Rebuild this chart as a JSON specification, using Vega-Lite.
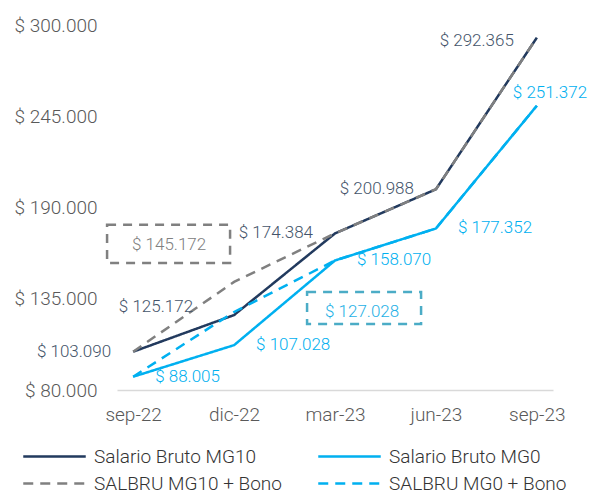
{
  "$schema": "https://vega.github.io/schema/vega-lite/v6.json",
  "width": 436,
  "height": 365,
  "autosize": {"type": "none"},
  "padding": {"left": 117, "top": 25, "right": 36, "bottom": 104},
  "background": "white",
  "config": {
    "view": {"stroke": null},
    "font": "Roboto",
    "text": {"font": "Roboto", "fontWeight": 300}
  },
  "data": {
    "values": [
      {"date": "sep-22", "series": "Salario Bruto MG10", "value": 103090},
      {"date": "dic-22", "series": "Salario Bruto MG10", "value": 125172},
      {"date": "mar-23", "series": "Salario Bruto MG10", "value": 174384},
      {"date": "jun-23", "series": "Salario Bruto MG10", "value": 200988},
      {"date": "sep-23", "series": "Salario Bruto MG10", "value": 292365},
      {"date": "sep-22", "series": "Salario Bruto MG0", "value": 88005},
      {"date": "dic-22", "series": "Salario Bruto MG0", "value": 107028},
      {"date": "mar-23", "series": "Salario Bruto MG0", "value": 158070},
      {"date": "jun-23", "series": "Salario Bruto MG0", "value": 177352},
      {"date": "sep-23", "series": "Salario Bruto MG0", "value": 251372},
      {"date": "sep-22", "series": "SALBRU MG10 + Bono", "value": 103090},
      {"date": "dic-22", "series": "SALBRU MG10 + Bono", "value": 145172},
      {"date": "mar-23", "series": "SALBRU MG10 + Bono", "value": 174384},
      {"date": "jun-23", "series": "SALBRU MG10 + Bono", "value": 200988},
      {"date": "sep-23", "series": "SALBRU MG10 + Bono", "value": 292365},
      {"date": "sep-22", "series": "SALBRU MG0 + Bono", "value": 88005},
      {"date": "dic-22", "series": "SALBRU MG0 + Bono", "value": 127028},
      {"date": "mar-23", "series": "SALBRU MG0 + Bono", "value": 158070},
      {"date": "jun-23", "series": "SALBRU MG0 + Bono", "value": 177352},
      {"date": "sep-23", "series": "SALBRU MG0 + Bono", "value": 251372}
    ]
  },
  "transform": [
    {"calculate": "'$ ' + replace(format(datum.value, ','), ',', '.')", "as": "label"}
  ],
  "encoding": {
    "x": {
      "field": "date", "type": "ordinal",
      "sort": ["sep-22", "dic-22", "mar-23", "jun-23", "sep-23"],
      "scale": {"type": "point", "padding": 0.16},
      "axis": {
        "title": null, "labelAngle": 0, "ticks": false, "tickSize": 0,
        "domainColor": "#d9d9d9", "domainWidth": 1.5,
        "labelFont": "Roboto", "labelFontWeight": 300, "labelFontSize": 19,
        "labelColor": "#595959", "labelPadding": 15
      }
    },
    "y": {
      "field": "value", "type": "quantitative",
      "scale": {"domain": [80000, 300000], "nice": false, "zero": false},
      "axis": {
        "title": null, "values": [80000, 135000, 190000, 245000, 300000],
        "labelExpr": "'$ ' + replace(format(datum.value, ','), ',', '.')",
        "domain": false, "grid": false, "ticks": false, "tickSize": 0,
        "labelFont": "Roboto", "labelFontWeight": 300, "labelFontSize": 19,
        "labelColor": "#595959", "labelPadding": 20
      }
    }
  },
  "layer": [
    {
      "transform": [{"filter": "indexof(datum.series, 'Salario') == 0"}],
      "mark": {"type": "line", "strokeWidth": 2.5},
      "encoding": {
        "color": {"field": "series", "type": "nominal",
          "scale": {"domain": ["Salario Bruto MG10", "Salario Bruto MG0", "SALBRU MG10 + Bono", "SALBRU MG0 + Bono"],
                    "range": ["#223a5e", "#00b0f0", "#808080", "#00b0f0"]},
          "legend": {
            "title": null, "orient": "none", "legendX": -76.5, "legendY": 417.5,
            "columns": 2, "direction": "horizontal", "symbolType": "M-2.5,0H2.5", "symbolSize": 625,
            "symbolStrokeWidth": 2.5, "symbolFillColor": "transparent", "labelFont": "Roboto", "labelFontWeight": 300, "labelFontSize": 19,
            "labelColor": "#333333", "labelOffset": 25.5, "columnPadding": 30, "rowPadding": 3, "padding": 0,
            "labelLimit": 400
          }
        },
        "strokeDash": {"field": "series", "type": "nominal",
          "scale": {"domain": ["Salario Bruto MG10", "Salario Bruto MG0", "SALBRU MG10 + Bono", "SALBRU MG0 + Bono"],
                    "range": [[1, 0], [1, 0], [10, 7], [10, 7]]},
          "legend": {
            "title": null, "orient": "none", "legendX": -76.5, "legendY": 417.5,
            "columns": 2, "direction": "horizontal", "symbolType": "M-2.5,0H2.5", "symbolSize": 625,
            "symbolStrokeWidth": 2.5, "symbolFillColor": "transparent", "labelFont": "Roboto", "labelFontWeight": 300, "labelFontSize": 19,
            "labelColor": "#333333", "labelOffset": 25.5, "columnPadding": 30, "rowPadding": 3, "padding": 0,
            "labelLimit": 400
          }
        }
      }
    },
    {
      "transform": [{"filter": "indexof(datum.series, 'SALBRU') == 0"}],
      "mark": {"type": "line", "strokeWidth": 2.5},
      "encoding": {
        "color": {"field": "series", "type": "nominal"},
        "strokeDash": {"field": "series", "type": "nominal"}
      }
    },
    {
      "transform": [{"filter": "datum.series == 'Salario Bruto MG10' && (datum.date == 'sep-22' || datum.date == 'mar-23' || datum.date == 'jun-23')"}],
      "mark": {"type": "text", "align": "right", "baseline": "middle", "dx": -22, "fontSize": 17, "color": "#44546a"},
      "encoding": {"text": {"field": "label"}}
    },
    {
      "transform": [{"filter": "datum.series == 'Salario Bruto MG10' && datum.date == 'dic-22'"}],
      "mark": {"type": "text", "align": "right", "baseline": "middle", "dx": -41, "dy": -8, "fontSize": 17, "color": "#44546a"},
      "encoding": {"text": {"field": "label"}}
    },
    {
      "transform": [{"filter": "datum.series == 'Salario Bruto MG10' && datum.date == 'sep-23'"}],
      "mark": {"type": "text", "align": "right", "baseline": "middle", "dx": -23, "dy": 3, "fontSize": 17, "color": "#44546a"},
      "encoding": {"text": {"field": "label"}}
    },
    {
      "transform": [{"filter": "datum.series == 'Salario Bruto MG0' && datum.date != 'sep-23'"}],
      "mark": {"type": "text", "align": "left", "baseline": "middle", "dx": 22, "fontSize": 17, "color": "#00b0f0"},
      "encoding": {"text": {"field": "label"}}
    },
    {
      "transform": [{"filter": "datum.series == 'Salario Bruto MG0' && datum.date == 'sep-23'"}],
      "mark": {"type": "text", "align": "left", "baseline": "middle", "dx": -24, "dy": -13, "fontSize": 17, "color": "#00b0f0"},
      "encoding": {"text": {"field": "label"}}
    },
    {
      "transform": [{"filter": "datum.series == 'SALBRU MG10 + Bono' && datum.date == 'dic-22'"}],
      "mark": {"type": "point", "shape": "M-1,-0.309H1V0.309H-1Z", "size": 15129, "filled": false,
               "stroke": "#808080", "strokeWidth": 2.5, "strokeDash": [9, 7], "opacity": 1,
               "xOffset": -65.5, "yOffset": -38}
    },
    {
      "transform": [{"filter": "datum.series == 'SALBRU MG10 + Bono' && datum.date == 'dic-22'"}],
      "mark": {"type": "text", "align": "center", "baseline": "middle", "dx": -65, "dy": -37, "fontSize": 17, "color": "#808080"},
      "encoding": {"text": {"field": "label"}}
    },
    {
      "transform": [{"filter": "datum.series == 'SALBRU MG0 + Bono' && datum.date == 'dic-22'"}],
      "mark": {"type": "point", "shape": "M-1,-0.281H1V0.281H-1Z", "size": 12996, "filled": false,
               "stroke": "#4bacc6", "strokeWidth": 2.5, "strokeDash": [9, 7], "opacity": 1,
               "xOffset": 130, "yOffset": -4}
    },
    {
      "transform": [{"filter": "datum.series == 'SALBRU MG0 + Bono' && datum.date == 'dic-22'"}],
      "mark": {"type": "text", "align": "center", "baseline": "middle", "dx": 128, "dy": 0, "fontSize": 17, "color": "#1fb1e6"},
      "encoding": {"text": {"field": "label"}}
    }
  ]
}
